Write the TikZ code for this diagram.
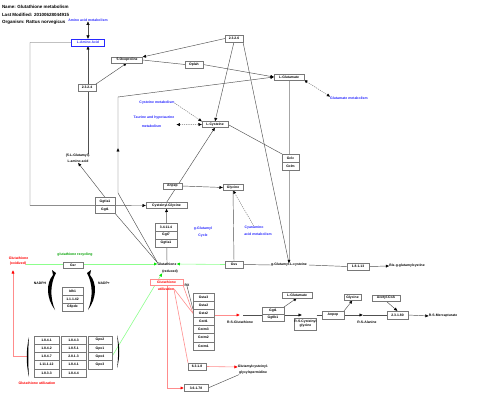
\documentclass[tikz,border=0pt]{standalone}
\usepackage{fontspec}
\setmainfont{Liberation Sans}
\usetikzlibrary{arrows.meta,backgrounds}
\definecolor{pblue}{RGB}{40,40,255}
\definecolor{pgreen}{RGB}{0,160,0}
\definecolor{lgreen}{RGB}{140,255,140}
\definecolor{gtip}{RGB}{0,230,0}
\definecolor{lred}{RGB}{255,140,140}
\definecolor{rtip}{RGB}{255,0,0}
\definecolor{ln}{RGB}{80,80,80}
\definecolor{bx}{RGB}{120,120,120}
\begin{document}
\begin{tikzpicture}[x=1pt,y=-1pt,
  every node/.style={inner sep=0pt,outer sep=0pt,font=\fontsize{3.4}{4}\selectfont\bfseries},
  hdr/.style={font=\fontsize{4.5}{5}\selectfont\bfseries,anchor=west},
  box/.style={draw=bx,line width=0.55pt,fill=white,minimum height=7pt},
  bl/.style={text=pblue,font=\fontsize{3.5}{4}\selectfont\bfseries},
  rd/.style={text=rtip,font=\fontsize{3.5}{4}\selectfont\bfseries},
  gn/.style={text=pgreen,font=\fontsize{3.5}{4}\selectfont\bfseries},
  conn/.style={draw=ln,line width=0.45pt},
  arr/.style={conn,-{Latex[length=3.5pt,width=3.2pt,color=black]}},
  darr/.style={draw=black!55,line width=0.45pt,dashed,dash pattern=on 1.2pt off 1pt,-{Latex[length=3.5pt,width=3.2pt,color=black]}},
  ddarr/.style={darr,{Latex[length=3.5pt,width=3.2pt,color=black]}-{Latex[length=3.5pt,width=3.2pt,color=black]}},
  garr/.style={draw=lgreen,line width=0.6pt,-{Latex[length=3.5pt,width=3.2pt,color=gtip]}},
  rline/.style={draw=lred,line width=0.6pt},
  rarr/.style={rline,-{Latex[length=3.5pt,width=3.2pt,color=rtip]}}
]
\useasboundingbox (0,0) rectangle (480,404);
% header
\node[hdr] (n1) at (2,7) {Name: Glutathione metabolism};
\node[hdr] (n2) at (2,15) {Last Modified: 20100628044915};
\node[hdr] (n3) at (2,22.5) {Organism: Rattus norvegicus};
\node[bl] (aam) at (88,20) {Amino acid metabolism};
% upper part
\node[box,draw=pblue,text=pblue,minimum width=33pt] (laa) at (88,42.5) {L-Amino Acid};
\node[box,minimum width=18pt] (e2324) at (87,87.5) {2.3.2.4};
\node[box,minimum width=31pt,minimum height=6pt] (oxo) at (127,60) {5-Oxoproline};
\node[box,minimum width=18pt] (e2326) at (234,38.5) {2.3.2.6};
\node[box,minimum width=18pt] (oplah) at (194,64.5) {Oplah};
\node[box,minimum width=30pt,minimum height=6pt] (lglu) at (289,77) {L-Glutamate};
\node[bl] (glumet) at (349,98) {Glutamate metabolism};
\node[bl] (cysmet) at (157,103) {Cysteine metabolism};
\node[bl] (taur1) at (154,118) {Taurine and hypotaurine};
\node[bl] (taur2) at (151.5,126) {metabolism};
\node[box,minimum width=26pt,minimum height=6pt] (lcys) at (215,124.5) {L-Cysteine};
\node[box,minimum width=17pt,minimum height=8pt] (gclc) at (290.5,158) {Gclc};
\node[box,minimum width=17pt,minimum height=8pt] (gclm) at (290.5,166) {Gclm};
\node (glac1) at (78,156) {(5-L-Glutamyl)-};
\node (glac2) at (78,161.5) {L-amino acid};
\node[box,minimum width=20pt,minimum height=8pt] (ggtla) at (105,201.3) {Ggtla1};
\node[box,minimum width=20pt,minimum height=8pt] (ggt1) at (105,209.3) {Ggt1};
\node[box,minimum width=41pt,minimum height=6pt] (cysgly) at (166.5,205.5) {Cysteinyl-Glycine};
\node[box,minimum width=19pt,minimum height=6pt] (anpep) at (172.5,186) {Anpep};
\node[box,minimum width=20pt,minimum height=5.5pt] (gly) at (233,187.5) {Glycine};
\node[box,minimum width=22pt,minimum height=8pt] (e3411) at (166,227) {3.4.11.4};
\node[box,minimum width=22pt,minimum height=8pt] (ggt7) at (166,235) {Ggt7};
\node[box,minimum width=22pt,minimum height=8pt] (ggtlb) at (166,243) {Ggtla1};
\node[bl] (gc1) at (203,229) {g-Glutamyl};
\node[bl] (gc2) at (203,236) {Cycle};
\node[bl] (cy1) at (254,228) {Cyanamino};
\node[bl] (cy2) at (258,234) {acid metabolism};
\node[box,minimum width=18pt] (gss) at (234,264.5) {Gss};
\node (gglc) at (289,265) {g-Glutamyl-L-cysteine};
\node (gshr1) at (167,264) {Glutathione};
\node (gshr2) at (170,271.5) {(reduced)};
\node[box,minimum width=22pt] (e18113) at (358,266.5) {1.8.1.13};
\node (bisg) at (407,266) {Bis-g-glutamylcystine};
% recycling
\node[rd] (gox1) at (18.5,258) {Glutathione};
\node[rd] (gox2) at (18,264) {(oxidized)};
\node[gn] (grec) at (75,255) {glutathione recycling};
\node[box,minimum width=20pt,minimum height=6pt] (gsr) at (73,265) {Gsr};
\node (nadph) at (40,283) {NADPH};
\node (nadp) at (104,283) {NADP+};
\node[box,minimum width=21pt,minimum height=8pt] (idh1) at (72.5,291) {Idh1};
\node[box,minimum width=21pt,minimum height=8pt] (e11142) at (72.5,299) {1.1.1.42};
\node[box,minimum width=21pt,minimum height=8pt] (g6pdx) at (72.5,307) {G6pdx};
% utilization
\node[box,draw=lred,text=rtip,minimum width=33pt,minimum height=6pt] (gut1) at (166.5,282) {Glutathione};
\node[rd] (gut2) at (166,289) {utilization};
\node (rx) at (187,285) {RX};
\foreach \t [count=\i] in {Gsta3,Gsta2,Gstz2,Gstt1,Gstm3,Gstm2,Gstm1}
  \node[box,minimum width=21pt,minimum height=8.15pt] (gst\i) at (203.5,{293+8.15*(\i-0.5)}) {\t};
\node (rsg) at (240,322) {R-S-Glutathione};
\node[box,minimum width=22pt,minimum height=7pt] (ggt1b) at (273,310.5) {Ggt1};
\node[box,minimum width=22pt,minimum height=7pt] (ggtlbb) at (273,317.5) {Ggtlb1};
\node[box,minimum width=30pt,minimum height=6pt] (lglu2) at (297,295) {L-Glutamate};
\node[box,minimum width=17pt,minimum height=5.5pt] (gly2) at (352.5,297.5) {Glycine};
\node[box,minimum width=28pt,minimum height=6pt] (acoa) at (386,298) {Acetyl-CoA};
\node[box,minimum width=22pt,minimum height=8pt] (anpep2) at (333,315) {Anpep};
\node[box,minimum width=21pt,minimum height=8pt] (e23180) at (397.5,315) {2.3.1.80};
\node (rsm) at (443,316) {R-S-Mercapturate};
\node (rsa) at (367,322) {R-S-Alanine};
\node[box,minimum width=21pt,minimum height=12pt,align=center] (rscg) at (305.5,324) {R-S-Cysteinyl\\glycine};
\node[box,minimum width=18pt] (e6318) at (197,366.5) {6.3.1.8};
\node (gsp1) at (253,367) {Glutamylcysteinyl-};
\node (gsp2) at (253,373) {glycylspermidine};
\node[box,minimum width=24pt,minimum height=6.5pt] (e36178) at (196,388) {3.6.1.78};
% bottom table
\foreach \a/\b [count=\i] in {1.8.4.1/1.8.4.3,1.8.4.2/1.8.5.1,1.8.4.7/2.8.1.3,1.11.1.12/1.8.4.1,1.8.3.3/1.8.4.4}{
  \node[box,minimum width=25pt,minimum height=8.2pt] (ta\i) at (46.5,{336+8.2*(\i-0.5)}) {\a};
  \node[box,minimum width=25pt,minimum height=8.2pt] (tb\i) at (73.5,{336+8.2*(\i-0.5)}) {\b};}
\foreach \c [count=\i] in {Gpx2,Gpx1,Gpx4,Gpx3}
  \node[box,minimum width=24pt,minimum height=8.2pt] (tc\i) at (100,{336+8.2*(\i-0.5)}) {\c};
\node[rd] (gutb) at (37,383) {Glutathione utilization};
% connectors
\begin{scope}[on background layer]
\draw[conn,{Latex[length=3.5pt,width=3.2pt,color=black]}-{Latex[length=3.5pt,width=3.2pt,color=black]}] (laa.north) -- (aam.south);
\draw[arr] (laa.west) -- (30,42.5) -- (30,205.3) -- (cysgly.west);
\draw[arr] (glac1.north -| laa.south) -- (laa.south);
\draw[arr] (e2324.north east) -- (oxo.south);
\draw[arr] (e2326.west) -- (oxo.north east);
\draw[conn] (oxo.east) -- (oplah.west);
\draw[arr] (oplah.east) -- (lglu.west);
\draw[arr] (gshr1.north west) -- (118,193) -- (118,148);
\draw[arr] (118,150) -- (118,97) -- (lglu.west);
\draw[arr] (e2326.south) -- (lcys.north);
\draw[conn] (e2326.south east) -- (gglc.north);
\draw[draw=black!35,line width=0.8pt,-{Latex[length=3.5pt,width=3.2pt,color=black]}] (lglu.south) -- (gglc.north);
\draw[conn] (lcys.east) -- (gclc.north west);
\draw[darr] (cysmet.east) -- (lcys.north west);
\draw[ddarr] (taur1.south east) ++(2,5) -- (lcys.west);
\draw[ddarr] (lglu.south east) -- (glumet.north west);
\draw[arr] (cysgly.north) -- (lcys.south);
\draw[arr] (anpep.east) -- (gly.west);
\draw[darr] (cy1.north) -- (gly.south);
\draw[conn] (gly.south) -- (gss.north);
\draw[conn] (gss.east) -- (gglc.west);
\draw[garr] (gss.west) -- (gshr1.east);
\draw[arr] (gshr1.north) -- (cysgly.south);
\draw[garr] (gox2.east) -- (gshr1.west);
\draw[garr] (tc3.east) -- (gshr2.south west);
\draw[arr] (ggtla.north) -- (glac2.south);
\draw[conn] (ggt1.south east) -- (gshr1.north west);
\draw[conn] (gglc.east) ++(2,0) -- (e18113.west);
\draw[arr] (e18113.east) -- (bisg.west);
% utilization
\draw[rarr] (27,356.5) -- (13,356.5) -- (13,270);
\draw[rline] (gut1.south east) -- (gst3.west);
\draw[rline] (gut2.east) -- (gst3.west);
\draw[conn] (rx.south) -- (gst3.north west);
\draw[rline] (gut2.south east) -- (e6318.north west);
\draw[rarr] (167,285) -- (167,388) -- (e36178.west);
\draw[rarr] (e6318.east) -- (gsp1.west);
\draw[conn] (e36178.east) -- (gsp2.south west);
\draw[rarr] (gst3.east |- 0,315) -- (240,315);
\draw[conn] (243,315) -- (ggt1b.west |- 0,315);
\draw[arr] (ggt1b.east |- 0,315) -- (302,315);
\draw[arr] (ggt1b.north east) -- (lglu2.south);
\draw[conn] (rscg.east |- 0,315) -- (anpep2.west);
\draw[arr] (anpep2.east) -- (363,315);
\draw[conn] (363,315) -- (e23180.west);
\draw[arr] (anpep2.north east) -- (gly2.south);
\draw[arr] (acoa.south) -- (e23180.north);
\draw[arr] (e23180.east) -- (rsm.west);
\end{scope}
% crescents
\fill (55,310) .. controls (46,298) and (46,283) .. (53,275) -- (52,270) -- (56,273) .. controls (50,284) and (50,298) .. (55,310) -- cycle;
\fill (88,310) .. controls (97,298) and (97,283) .. (90,275) -- (91,270) -- (87,273) .. controls (93,284) and (93,298) .. (88,310) -- cycle;
\fill (29,337) .. controls (26,350) and (26,364) .. (29,377) .. controls (28,364) and (28,350) .. (29,337) -- cycle;
\fill (117,335) .. controls (120,346) and (120,358) .. (117,368) .. controls (118.5,358) and (118.5,346) .. (117,335) -- cycle;
\end{tikzpicture}
\end{document}
